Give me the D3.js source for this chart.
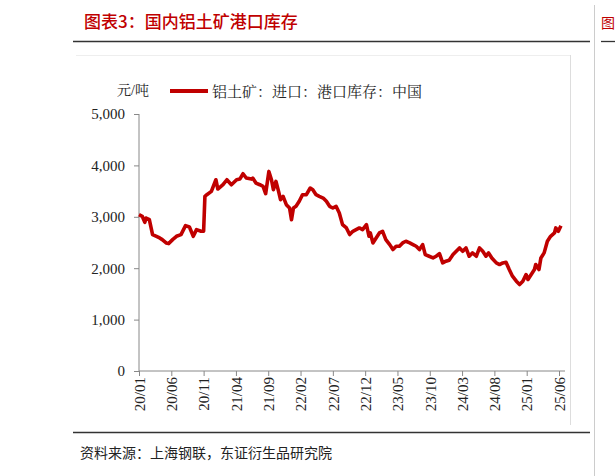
<!DOCTYPE html><html><head><meta charset="utf-8"><script src="https://cdn.jsdelivr.net/npm/d3@7"></script>
<style>body{margin:0;background:#fff}</style></head><body><svg id="c" width="615" height="476"></svg><script>
const monthOffsets=[0,0.5,0.9,1.1,1.6,2.1,2.7,3.2,3.6,4.2,4.6,5.2,5.8,6.5,7.2,7.8,8.4,8.9,9.6,10,10.2,10.5,11.2,11.9,12.2,13,13.6,14.3,15.1,15.6,16.1,16.6,17.4,17.6,18.1,18.7,19.2,19.6,20.1,20.5,20.8,21.2,21.6,21.9,22.3,22.8,23.3,23.6,23.9,24.3,24.8,25.3,25.9,26.5,26.9,27.4,27.9,28.5,29,29.5,30,30.5,31,31.5,32.1,32.6,33.1,33.6,34.1,34.6,35.2,35.6,35.8,36.2,36.7,37.2,37.7,38.2,38.8,39.3,39.8,40.3,40.8,41.3,41.9,42.4,42.9,43.4,43.9,44.3,44.9,45.5,46,46.5,47,47.5,48,48.6,49.1,49.6,50.1,50.6,51.1,51.6,52.2,52.7,53.2,53.7,54.1,54.6,55.3,55.8,56.3,56.8,57.3,57.8,58.4,58.9,59.4,59.9,60.2,60.7,61.2,61.4,61.9,62.2,62.7,63.2,63.7,64.3,64.5,64.9,65.3];
const stock=[3042,3010,2893,2977,2945,2654,2621,2589,2556,2492,2479,2556,2621,2654,2828,2802,2621,2751,2718,2718,3398,3430,3495,3721,3540,3624,3721,3624,3721,3734,3838,3754,3734,3754,3657,3624,3592,3450,3883,3721,3527,3689,3495,3333,3398,3236,3171,2945,3171,3204,3301,3430,3430,3560,3527,3430,3398,3365,3301,3204,3171,3204,3074,2848,2783,2654,2718,2751,2783,2751,2848,2621,2686,2492,2589,2686,2718,2556,2459,2362,2427,2427,2492,2524,2492,2459,2427,2362,2459,2265,2233,2200,2233,2285,2103,2136,2155,2265,2330,2395,2330,2395,2233,2298,2233,2395,2330,2233,2298,2200,2103,2071,2103,2116,1974,1845,1747,1683,1747,1877,1780,1877,1974,2071,1974,2200,2298,2524,2621,2686,2783,2718,2828];
const xTickLabels=["20/01","20/06","20/11","21/04","21/09","22/02","22/07","22/12","23/05","23/10","24/03","24/08","25/01","25/06"];
const yTicks=[0,1000,2000,3000,4000,5000];
const svg=d3.select("#c");
const serif="'Liberation Serif','Noto Serif CJK SC','Noto Sans CJK SC',serif";
svg.append("text").attr("x",84).attr("y",28).attr("fill","#c00000").attr("font-size",17).attr("font-weight","500").attr("font-family","'Noto Sans CJK SC'").text("图表3：国内铝土矿港口库存");
svg.append("line").attr("x1",73).attr("x2",590).attr("y1",41.5).attr("y2",41.5).attr("stroke","#333").attr("stroke-width",1.3);
svg.append("line").attr("x1",601).attr("x2",615).attr("y1",41.5).attr("y2",41.5).attr("stroke","#333").attr("stroke-width",1.3);
svg.append("line").attr("x1",594.5).attr("x2",594.5).attr("y1",5).attr("y2",476).attr("stroke","#ccc");
svg.append("text").attr("x",601).attr("y",28).attr("fill","#c00000").attr("font-size",14).attr("font-family","'Noto Sans CJK SC'").text("图");
svg.append("line").attr("x1",73).attr("x2",590).attr("y1",432.5).attr("y2",432.5).attr("stroke","#333").attr("stroke-width",1.3);
svg.append("text").attr("x",80).attr("y",458).attr("font-size",14).attr("font-family","'Noto Sans CJK SC'").attr("fill","#222").text("资料来源：上海钢联，东证衍生品研究院");
svg.append("line").attr("x1",570.5).attr("x2",570.5).attr("y1",55).attr("y2",425).attr("stroke","#ddd");
svg.append("line").attr("x1",76).attr("x2",570).attr("y1",55.5).attr("y2",55.5).attr("stroke","#eee");
const x=d3.scaleLinear().domain([0,65]).range([139,559]);
const y=d3.scaleLinear().domain([0,5000]).range([371,114]);
const ya=svg.append("g").attr("transform","translate(139,0)").call(d3.axisLeft(y).tickValues(yTicks).tickFormat(d3.format(",")).tickSize(5));
ya.selectAll("text").attr("font-family",serif).attr("font-size",15).attr("fill","#222").attr("dx",-6);
ya.selectAll("line,path").attr("stroke","#888");
ya.select(".domain").attr("d","M0,114V371");
const xa=svg.append("g").attr("transform","translate(0,371)").call(d3.axisBottom(x).tickValues(xTickLabels.map((d,i)=>i*5)).tickFormat((d,i)=>xTickLabels[i]).tickSize(5));
xa.select(".domain").attr("d","M139,0H565");
xa.selectAll("line,path").attr("stroke","#888");
xa.selectAll("text").attr("font-family",serif).attr("font-size",15).attr("fill","#222").attr("transform","rotate(-90)").attr("text-anchor","end").attr("x",-6).attr("y",0).attr("dy","0.35em");
svg.append("path").datum(monthOffsets.map((m,i)=>[m,stock[i]])).attr("d",d3.line().x(d=>x(d[0])).y(d=>y(d[1]))).attr("fill","none").attr("stroke","#c00000").attr("stroke-width",3.6).attr("stroke-linejoin","round");
svg.append("text").attr("x",117).attr("y",95).attr("font-size",14).attr("font-family",serif).attr("fill","#222").text("元/吨");
svg.append("line").attr("x1",170).attr("x2",208).attr("y1",91).attr("y2",91).attr("stroke","#c00000").attr("stroke-width",4);
svg.append("text").attr("x",212).attr("y",97).attr("font-size",15).attr("font-family",serif).attr("fill","#222").text("铝土矿：进口：港口库存：中国");
</script></body></html>
